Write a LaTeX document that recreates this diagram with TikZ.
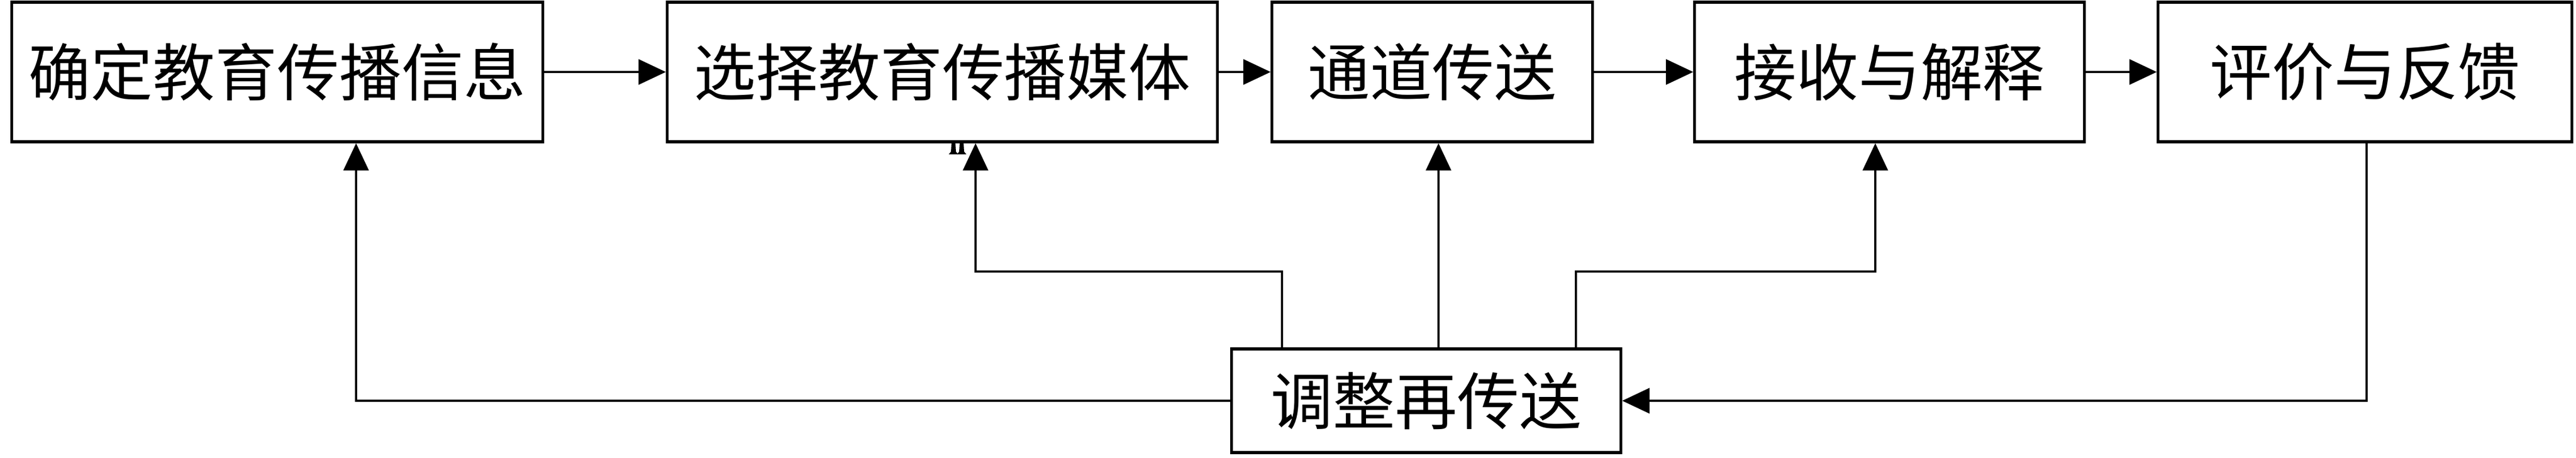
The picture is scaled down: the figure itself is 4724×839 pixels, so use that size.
\documentclass[tikz,border=0pt]{standalone}
\usepackage{fontspec}
\newfontfamily\cjk{Noto Sans CJK SC}
\usetikzlibrary{arrows.meta}
\begin{document}
\begin{tikzpicture}[x=0.01cm,y=-0.01cm,
  box/.style={draw=black,line width=1.5pt,inner sep=0pt,minimum height=2.56cm,
    font=\cjk\fontsize{32.4pt}{32.4pt}\selectfont,text=black},
  arr/.style={line width=1.25pt,-{Triangle[length=0.5cm,width=0.46cm]}},
  ln/.style={line width=1.25pt}]
\useasboundingbox (0,0) rectangle (4724,839);
\node[box,minimum width=9.73cm] (b1) at (508.5,132) {确定教育传播信息};
\node[box,minimum width=10.08cm] (b2) at (1728,132) {选择教育传播媒体};
\node[box,minimum width=5.87cm] (b3) at (2626.5,132) {通道传送};
\node[box,minimum width=7.14cm] (b4) at (3465,132) {接收与解释};
\node[box,minimum width=7.58cm] (b6) at (4337,132) {评价与反馈};
\node[box,minimum width=7.13cm,minimum height=1.9cm] (b5) at (2615.5,735) {调整再传送};
% top row
\draw[arr] (b1) -- (b2);
\draw[arr] (b2) -- (b3);
\draw[arr] (b3) -- (b4);
\draw[arr] (b4) -- (b6);
% feedback
\coordinate (xa) at (653,0);
\coordinate (xb) at (1789,498);
\coordinate (xc) at (2351,498);
\coordinate (xd) at (2638,0);
\coordinate (xe) at (2890,498);
\coordinate (xf) at (3439,498);
\coordinate (xg) at (4340,0);
\draw[arr] (b5.west) -| (b1.south -| xa);
\draw[arr] (b5.north -| xc) -- (xc) -- (xb) -- (b2.south -| xb);
\draw[arr] (b5.north -| xd) -- (b3.south -| xd);
\draw[arr] (b5.north -| xe) -- (xe) -- (xf) -- (b4.south -| xf);
\draw[arr] (b6.south -| xg) |- (b5.east);
% small mark under box 2
\fill (1745,261) -- (1752,261) -- (1753,278) -- (1757,283) -- (1740,283) -- (1744,278) -- cycle;
\fill (1760,261) -- (1767,261) -- (1768,278) -- (1772,283) -- (1755,283) -- (1759,278) -- cycle;
\end{tikzpicture}
\end{document}
